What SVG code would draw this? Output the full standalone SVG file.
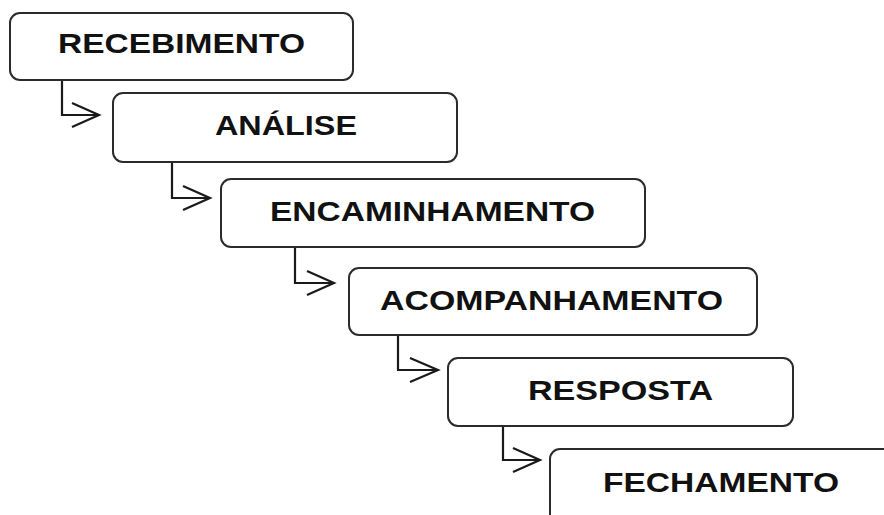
<svg xmlns="http://www.w3.org/2000/svg" width="884" height="515" viewBox="0 0 884 515">
<defs>
<style>
.box{fill:#fff;stroke:#2b2b2b;stroke-width:2}
.lbl{font-family:"Liberation Sans",Arial,sans-serif;font-weight:bold;font-size:28px;fill:#111}
.con{fill:none;stroke:#1a1a1a;stroke-width:2.2;stroke-linejoin:miter}
</style>
</defs>
<rect width="884" height="515" fill="#fff"/>
<g id="connectors">
<path class="con" d="M62 80 V115 H99 M72 103 L99 115 L72 127"/>
<path class="con" d="M172 162 V198 H210 M183 186 L210 198 L183 210"/>
<path class="con" d="M295 247 V283 H334 M307 271 L334 283 L307 295"/>
<path class="con" d="M398 335 V370 H438 M410 358 L438 370 L410 382"/>
<path class="con" d="M503 426 V460 H540 M513 448 L540 460 L513 472"/>
</g>
<g id="recebimento">
<rect class="box" x="10" y="13" width="343" height="67" rx="10"/>
<text class="lbl" x="58" y="53" textLength="247" lengthAdjust="spacingAndGlyphs">RECEBIMENTO</text>
</g>
<g id="analise">
<rect class="box" x="113" y="93" width="344" height="69" rx="10"/>
<text class="lbl" x="215" y="135" textLength="142" lengthAdjust="spacingAndGlyphs">ANÁLISE</text>
</g>
<g id="encaminhamento">
<rect class="box" x="221" y="179" width="424" height="68" rx="10"/>
<text class="lbl" x="270" y="221" textLength="325" lengthAdjust="spacingAndGlyphs">ENCAMINHAMENTO</text>
</g>
<g id="acompanhamento">
<rect class="box" x="349" y="268" width="408" height="67" rx="10"/>
<text class="lbl" x="380" y="310" textLength="343" lengthAdjust="spacingAndGlyphs">ACOMPANHAMENTO</text>
</g>
<g id="resposta">
<rect class="box" x="448" y="358" width="345" height="68" rx="10"/>
<text class="lbl" x="528" y="400" textLength="185" lengthAdjust="spacingAndGlyphs">RESPOSTA</text>
</g>
<g id="fechamento">
<rect class="box" x="550" y="449" width="345" height="80" rx="10"/>
<text class="lbl" x="603" y="492" textLength="236" lengthAdjust="spacingAndGlyphs">FECHAMENTO</text>
</g>
</svg>
